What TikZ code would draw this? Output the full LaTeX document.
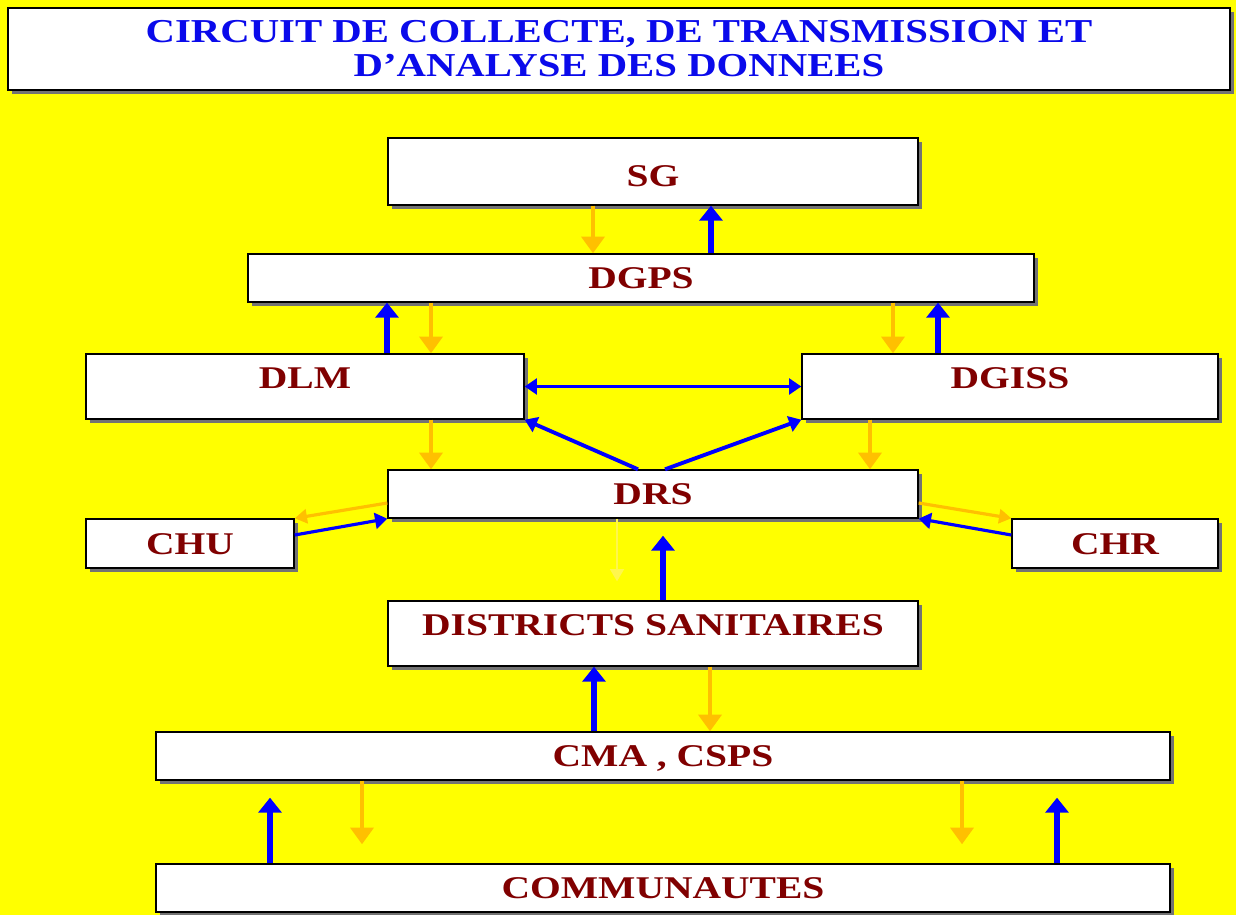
\documentclass[tikz,border=0pt]{standalone}
\usepackage{fontspec}
\setmainfont{Liberation Serif}
\usetikzlibrary{arrows.meta,shadows}

\definecolor{labelred}{RGB}{128,0,0}
\definecolor{titleblue}{RGB}{10,10,235}
\definecolor{flowblue}{RGB}{0,0,255}
\definecolor{flowgold}{RGB}{255,192,0}
\definecolor{bgyellow}{RGB}{255,255,0}

\newcommand{\squash}[2][0.8]{\scalebox{1}[#1]{#2}}

\tikzset{
  box/.style={draw=black, line width=0.8pt, fill=white, inner sep=0pt,
    font=\fontsize{22.5}{24}\selectfont\bfseries, text=labelred,
    text height=12pt, text depth=0pt,
    drop shadow={shadow xshift=0.08cm, shadow yshift=-0.08cm, fill=black!55, opacity=1}},
  raised/.style={text depth=0.36cm},
  up/.style={draw=flowblue, line width=3.4pt, -{Triangle[length=8.5pt,width=13pt]}},
  upthin/.style={draw=flowblue, line width=2.2pt, -{Triangle[length=7pt,width=9pt]}},
  down/.style={draw=flowgold, line width=2.4pt, -{Triangle[length=9.5pt,width=13pt]}},
  downthin/.style={draw=flowgold, line width=1.8pt, -{Triangle[length=7pt,width=8pt]}},
}

\begin{document}
\begin{tikzpicture}[x=0.02cm, y=-0.02cm]
  \fill[bgyellow] (0,0) rectangle (1236,915);
  \useasboundingbox (0,0) rectangle (1236,915);

  % title
  \node[box, text=titleblue, font=\fontsize{23.2}{0.68cm}\selectfont\bfseries, text height=, text depth=,
        align=center, minimum width=24.44cm, minimum height=1.64cm] (title) at (619,49)
    {\squash[0.82]{CIRCUIT DE COLLECTE, DE TRANSMISSION ET}\\\squash[0.82]{D'ANALYSE DES DONNEES}};

  % levels
  \node[box, text height=17pt, minimum width=10.6cm, minimum height=1.34cm] (sg) at (653,171.5) {\squash{SG}};
  \node[box, minimum width=15.72cm, minimum height=0.96cm] (dgps) at (641,278) {\squash{DGPS}};
  \node[box, raised, minimum width=8.76cm, minimum height=1.3cm] (dlm) at (305,386.5) {\squash{DLM}};
  \node[box, raised, minimum width=8.32cm, minimum height=1.3cm] (dgiss) at (1010,386.5) {\squash{DGISS}};
  \node[box, minimum width=10.6cm, minimum height=0.96cm] (drs) at (653,494) {\squash{DRS}};
  \node[box, minimum width=4.16cm, minimum height=0.98cm] (chu) at (190,543.5) {\squash{CHU}};
  \node[box, minimum width=4.12cm, minimum height=0.98cm] (chr) at (1115,543.5) {\squash{CHR}};
  \node[box, raised, minimum width=10.6cm, minimum height=1.3cm] (dist) at (653,633.5) {\squash{DISTRICTS SANITAIRES}};
  \node[box, minimum width=20.28cm, minimum height=0.96cm] (cma) at (663,756) {\squash{CMA , CSPS}};
  \node[box, minimum width=20.28cm, minimum height=0.96cm] (comm) at (663,888) {\squash{COMMUNAUTES}};

  % SG - DGPS
  \draw[down] (sg.south -| 593,0) -- (dgps.north -| 593,0);
  \draw[up] (dgps.north -| 711,0) -- (sg.south -| 711,0);

  % DGPS - DLM, DGISS
  \draw[up] (dlm.north -| 387,0) -- (dgps.south -| 387,0);
  \draw[down] (dgps.south -| 431,0) -- (dlm.north -| 431,0);
  \draw[down] (dgps.south -| 893,0) -- (dgiss.north -| 893,0);
  \draw[up] (dgiss.north -| 938,0) -- (dgps.south -| 938,0);
  \draw[upthin, {Triangle[length=7pt,width=9pt]}-{Triangle[length=7pt,width=9pt]}] (dlm.east) -- (dgiss.west);

  % DLM, DGISS - DRS
  \draw[down] (dlm.south -| 431,0) -- (drs.north -| 431,0);
  \draw[down] (dgiss.south -| 870,0) -- (drs.north -| 870,0);
  \draw[upthin] ([xshift=-0.3cm]drs.north) -- (dlm.south east);
  \draw[upthin] ([xshift=0.24cm]drs.north) -- (dgiss.south west);

  % DRS - CHU, CHR
  \draw[downthin] ([yshift=-0.18cm]drs.west) -- (chu.north east);
  \draw[upthin, line width=1.8pt] ([yshift=0.17cm]chu.east) -- (drs.south west);
  \draw[downthin] ([yshift=-0.18cm]drs.east) -- (chr.north west);
  \draw[upthin, line width=1.8pt] ([yshift=0.17cm]chr.west) -- (drs.south east);

  % DRS - districts
  \draw[downthin, draw=yellow!70!white, line width=1pt, shorten >=0.38cm] (drs.south -| 617,0) -- (dist.north -| 617,0);
  \draw[up] (dist.north -| 663,0) -- ([yshift=-0.34cm]drs.south -| 663,0);

  % districts - CMA
  \draw[up] (cma.north -| 594,0) -- (dist.south -| 594,0);
  \draw[down] (dist.south -| 710,0) -- (cma.north -| 710,0);

  % CMA - communautes
  \draw[down, shorten >=0.38cm] (cma.south -| 362,0) -- (comm.north -| 362,0);
  \draw[down, shorten >=0.38cm] (cma.south -| 962,0) -- (comm.north -| 962,0);
  \draw[up, shorten >=0.34cm] (comm.north -| 270,0) -- (cma.south -| 270,0);
  \draw[up, shorten >=0.34cm] (comm.north -| 1057,0) -- (cma.south -| 1057,0);
\end{tikzpicture}
\end{document}
